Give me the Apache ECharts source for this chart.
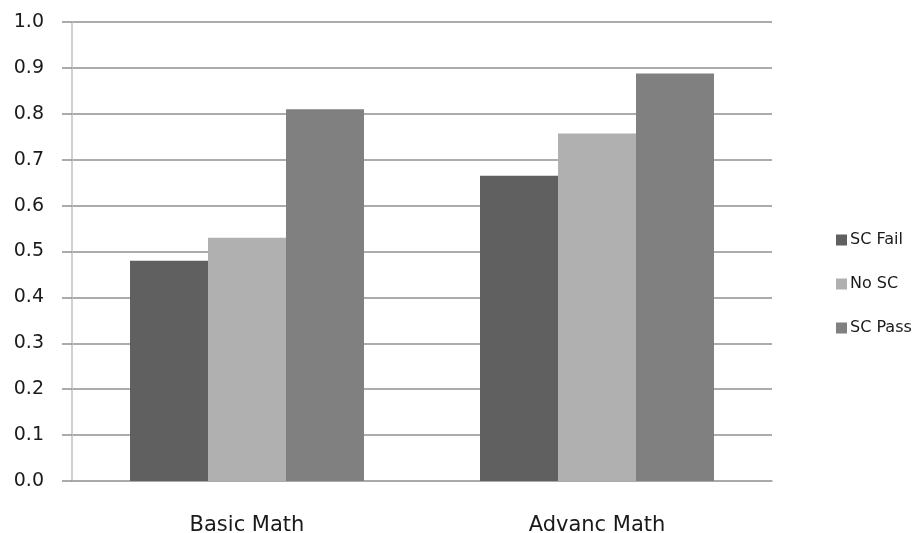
<!DOCTYPE html>
<html>
<head>
<meta charset="utf-8">
<script src="https://cdn.jsdelivr.net/npm/echarts@6/dist/echarts.min.js"></script>
<style>
html,body{margin:0;padding:0;background:#fff;}
#chart{width:919px;height:533px;}
</style>
</head>
<body>
<div id="chart"></div>
<script>
const categories = ['Basic Math', 'Advanc Math'];
const seriesNames = ['SC Fail', 'No SC', 'SC Pass'];
const scFail = [0.48, 0.665];
const noSC = [0.53, 0.757];
const scPass = [0.81, 0.888];
const colors = ['#606060', '#b0b0b0', '#808080'];

const chart = echarts.init(document.getElementById('chart'));
const dataSets = [scFail, noSC, scPass];
chart.setOption({
  animation: false,
  backgroundColor: '#fff',
  grid: { left: 72, right: 147, top: 22, bottom: 52, containLabel: false, outerBoundsMode: 'none' },
  legend: {
    orient: 'vertical',
    left: 831,
    top: 227,
    itemWidth: 11,
    itemHeight: 11,
    itemGap: 28,
    icon: 'rect',
    textStyle: { fontFamily: 'DejaVu Sans', fontSize: 16, color: '#1a1a1a', lineHeight: 16, padding: [0, 0, 0, -2] },
    data: seriesNames
  },
  xAxis: {
    type: 'category',
    data: categories,
    axisLine: { lineStyle: { color: '#a8a8a8', width: 1.5 } },
    axisTick: { length: 10, lineStyle: { color: '#909090', width: 1.5 } },
    axisLabel: { fontFamily: 'DejaVu Sans', fontSize: 21, color: '#1a1a1a', margin: 34 }
  },
  yAxis: {
    type: 'value',
    min: 0, max: 1, interval: 0.1,
    axisLine: { show: true, lineStyle: { color: '#c0c0c0', width: 1.5 } },
    axisTick: { show: true, length: 10, lineStyle: { color: '#909090', width: 1.5 } },
    splitLine: { lineStyle: { color: '#909090', width: 1.5 } },
    axisLabel: {
      fontFamily: 'DejaVu Sans', fontSize: 19, color: '#1a1a1a', margin: 28,
      formatter: v => v.toFixed(1)
    }
  },
  series: seriesNames.map((n, i) => ({
    name: n,
    type: 'bar',
    data: dataSets[i],
    barWidth: 78,
    barGap: '0%',
    itemStyle: { color: colors[i] }
  }))
});
</script>
</body>
</html>
